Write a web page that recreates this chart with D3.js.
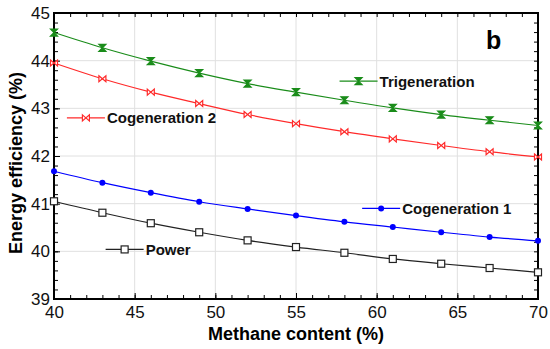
<!DOCTYPE html>
<html>
<head>
<meta charset="utf-8">
<script src="https://cdn.jsdelivr.net/npm/d3@7"></script>
<style>
  body { margin: 0; background: #fff; }
  svg { display: block; font-family: Arial, "Liberation Sans", sans-serif; }
</style>
</head>
<body>
<svg id="chart" width="550" height="349"></svg>
<script>
const methane = [40, 43, 46, 49, 52, 55, 58, 61, 64, 67, 70];
const trigeneration = [44.59, 44.27, 43.99, 43.74, 43.52, 43.34, 43.17, 43.01, 42.87, 42.75, 42.64];
const cogeneration2 = [43.95, 43.62, 43.34, 43.10, 42.87, 42.68, 42.51, 42.36, 42.22, 42.09, 41.98];
const cogeneration1 = [41.68, 41.44, 41.23, 41.04, 40.89, 40.75, 40.62, 40.51, 40.40, 40.30, 40.22];
const power = [41.05, 40.81, 40.59, 40.40, 40.23, 40.09, 39.97, 39.84, 39.74, 39.65, 39.56];

const xTicks = [40, 45, 50, 55, 60, 65, 70];
const yTicks = [39, 40, 41, 42, 43, 44, 45];

const svg = d3.select("#chart");
const margin = { left: 54, right: 12, top: 13, bottom: 50 };
const largeur = 550, hauteur = 349;

const x = d3.scaleLinear().domain([40, 70]).range([margin.left, largeur - margin.right]);
const y = d3.scaleLinear().domain([39, 45]).range([hauteur - margin.bottom, margin.top]);

// grid
const grid = svg.append("g").attr("stroke", "#e0e0e0").attr("stroke-width", 1);
xTicks.slice(1, -1).forEach(t => {
    grid.append("line").attr("x1", x(t)).attr("x2", x(t)).attr("y1", y(39)).attr("y2", y(45));
});
yTicks.slice(1, -1).forEach(t => {
    grid.append("line").attr("x1", x(40)).attr("x2", x(70)).attr("y1", y(t)).attr("y2", y(t));
});

// axes with inward ticks
const axisStyle = (g) => {
    g.select(".domain").remove();
    g.selectAll("line").attr("stroke", "#000").attr("stroke-width", 1);
    g.selectAll("text").attr("font-size", "17px").attr("fill", "#111");
};
const xMinor = d3.range(40, 71, 1);
const yMinor = d3.range(39, 45.01, 0.2).map(v => +v.toFixed(1));

svg.append("g").attr("transform", `translate(0,${y(39)})`)
    .call(d3.axisBottom(x).tickValues(xTicks).tickSize(-6).tickPadding(7).tickFormat(d3.format("d")))
    .call(axisStyle);
svg.append("g").attr("transform", `translate(0,${y(39)})`)
    .call(d3.axisBottom(x).tickValues(xMinor).tickSize(-4).tickFormat(""))
    .call(axisStyle);
svg.append("g").attr("transform", `translate(0,${y(45)})`)
    .call(d3.axisTop(x).tickValues(xMinor).tickSize(-4).tickFormat(""))
    .call(axisStyle);
svg.append("g").attr("transform", `translate(${x(40)},0)`)
    .call(d3.axisLeft(y).tickValues(yTicks).tickSize(-6).tickPadding(4).tickFormat(d3.format("d")))
    .call(axisStyle);
svg.append("g").attr("transform", `translate(${x(40)},0)`)
    .call(d3.axisLeft(y).tickValues(yMinor).tickSize(-4).tickFormat(""))
    .call(axisStyle);
svg.append("g").attr("transform", `translate(${x(70)},0)`)
    .call(d3.axisRight(y).tickValues(yMinor).tickSize(-4).tickFormat(""))
    .call(axisStyle);

// frame
svg.append("rect")
    .attr("x", x(40)).attr("y", y(45))
    .attr("width", x(70) - x(40)).attr("height", y(39) - y(45))
    .attr("fill", "none").attr("stroke", "#000").attr("stroke-width", 2);

// markers
function drawMarker(g, kind, cx, cy, color) {
    if (kind === "hourglass") {
        g.append("path")
            .attr("d", `M${cx - 3.5},${cy - 3.5}L${cx + 3.5},${cy - 3.5}L${cx - 3.5},${cy + 3.5}L${cx + 3.5},${cy + 3.5}Z`)
            .attr("fill", color).attr("stroke", color).attr("stroke-width", 1.2);
    } else if (kind === "bowtie") {
        g.append("path")
            .attr("d", `M${cx - 3.5},${cy - 3}L${cx + 3.5},${cy + 3}L${cx + 3.5},${cy - 3}L${cx - 3.5},${cy + 3}Z`)
            .attr("fill", "#fff").attr("stroke", color).attr("stroke-width", 1.2);
    } else if (kind === "dot") {
        g.append("circle").attr("cx", cx).attr("cy", cy).attr("r", 3).attr("fill", color);
    } else {
        g.append("rect").attr("x", cx - 3.5).attr("y", cy - 3.5).attr("width", 7).attr("height", 7)
            .attr("fill", "#fff").attr("stroke", color).attr("stroke-width", 1.2);
    }
}

// inline legend anchors (data units: start of legend line)
const series = [
    { name: "Trigeneration", values: trigeneration, color: "#1a8c1a", marker: "hourglass", lx: 57.7, ly: 43.57 },
    { name: "Cogeneration 2", values: cogeneration2, color: "#ff2a2a", marker: "bowtie", lx: 40.8, ly: 42.80 },
    { name: "Cogeneration 1", values: cogeneration1, color: "#0000ff", marker: "dot", lx: 59.1, ly: 40.90 },
    { name: "Power", values: power, color: "#222", marker: "square", lx: 43.2, ly: 40.04 }
];

const line = d3.line()
    .x((d, i) => x(methane[i]))
    .y(d => y(d))
    .curve(d3.curveMonotoneX);

series.forEach(s => {
    const g = svg.append("g");
    g.append("path").attr("d", line(s.values))
        .attr("fill", "none").attr("stroke", s.color).attr("stroke-width", 1.2);
    s.values.forEach((v, i) => drawMarker(g, s.marker, x(methane[i]), y(v), s.color));

    const x0 = x(s.lx), ly = y(s.ly);
    g.append("line").attr("x1", x0).attr("x2", x0 + 38).attr("y1", ly).attr("y2", ly)
        .attr("stroke", s.color).attr("stroke-width", 1.2);
    drawMarker(g, s.marker, x0 + 19, ly, s.color);
    g.append("text").attr("x", x0 + 40).attr("y", ly + 5.5)
        .attr("font-size", "15px").attr("font-weight", "bold").attr("fill", "#111")
        .text(s.name);
});

// panel letter
svg.append("text").attr("x", 486).attr("y", 49)
    .attr("font-size", "25px").attr("font-weight", "bold").text("b");

// axis titles
svg.append("text").attr("x", 296).attr("y", 340)
    .attr("text-anchor", "middle").attr("font-size", "18px").attr("font-weight", "bold")
    .text("Methane content (%)");
svg.append("text")
    .attr("transform", `translate(22,163) rotate(-90)`)
    .attr("text-anchor", "middle").attr("font-size", "18px").attr("font-weight", "bold")
    .text("Energy efficiency (%)");
</script>
</body>
</html>
